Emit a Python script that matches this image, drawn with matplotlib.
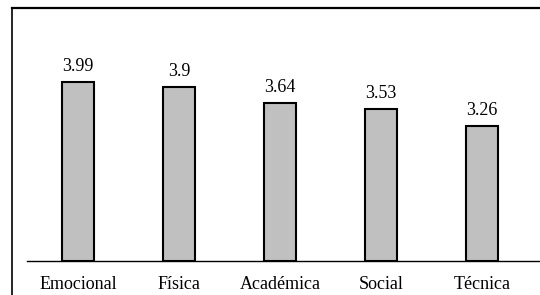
import matplotlib.pyplot as plt
from matplotlib.lines import Line2D

categories = ["Emocional", "Física", "Académica", "Social", "Técnica"]
values = [3.99, 3.9, 3.64, 3.53, 3.26]
value_labels = ["3.99", "3.9", "3.64", "3.53", "3.26"]

plt.rcParams["font.family"] = ["Liberation Serif", "DejaVu Serif"]

fig = plt.figure(figsize=(5.4, 2.95), dpi=100)
ax = fig.add_axes([27 / 540, 34 / 295, 513 / 540, 253 / 295])

x = range(len(categories))
bars = ax.bar(x, [v - 1 for v in values], bottom=1, width=0.317,
              color="#c0c0c0", edgecolor="black", linewidth=1.5)

for b, lab in zip(bars, value_labels):
    ax.annotate(lab, (b.get_x() + b.get_width() / 2, b.get_y() + b.get_height()),
                xytext=(0, 5), textcoords="offset points",
                ha="center", va="bottom", fontsize=13)

ax.set_xlim(-0.505, 4.574)
ax.set_ylim(1, 5.22)
ax.set_xticks(list(x))
ax.set_xticklabels(categories, fontsize=13)
ax.tick_params(axis="x", length=0, pad=11)
ax.set_yticks([])
for s in ["top", "right", "left"]:
    ax.spines[s].set_visible(False)
ax.spines["bottom"].set_linewidth(1.0)

# frame around the picture (left and top edges)
fig.add_artist(Line2D([11.5 / 540, 11.5 / 540], [0, 1 - 8 / 295], color="black",
                      linewidth=1.2, transform=fig.transFigure))
fig.add_artist(Line2D([11.5 / 540, 1], [1 - 8 / 295, 1 - 8 / 295], color="black",
                      linewidth=1.6, transform=fig.transFigure))

fig.savefig("out.png", dpi=100)
